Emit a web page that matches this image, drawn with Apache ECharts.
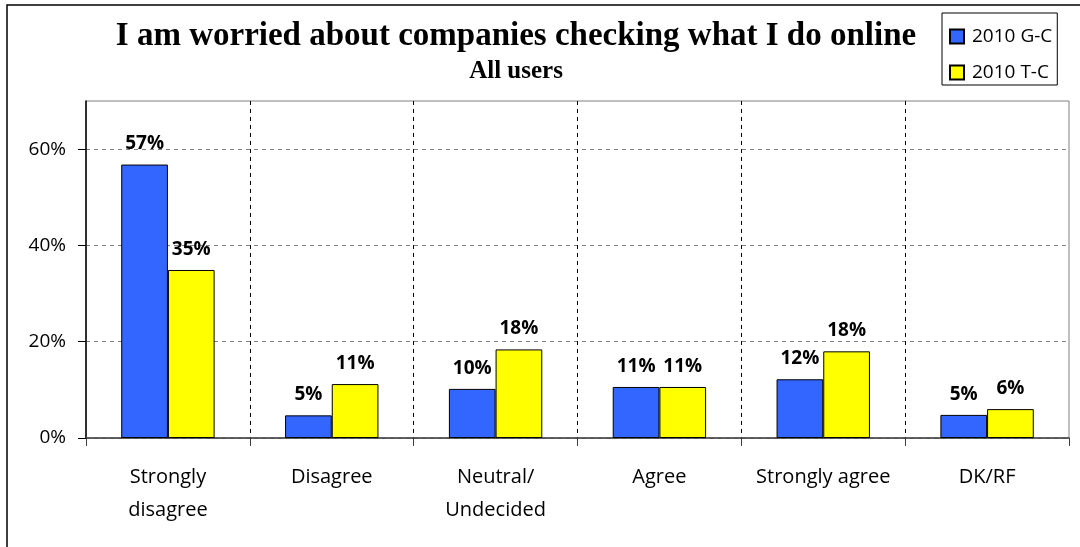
<!DOCTYPE html>
<html>
<head>
<meta charset="utf-8">
<script src="https://cdn.jsdelivr.net/npm/echarts@6/dist/echarts.min.js"></script>
<style>
  html, body { margin: 0; padding: 0; background: #fff; }
  #chart { width: 1080px; height: 547px; }
</style>
</head>
<body>
<div id="chart"></div>
<script>
var categories = ['Strongly\ndisagree', 'Disagree', 'Neutral/\nUndecided', 'Agree', 'Strongly agree', 'DK/RF'];
var seriesNames = ['2010 G-C', '2010 T-C'];
var gcData = [56.8, 4.7, 10.2, 10.6, 12.2, 4.8];
var tcData = [34.9, 11.2, 18.4, 10.6, 18.0, 6.0];
var yTicks = [0, 20, 40, 60];

var chart = echarts.init(document.getElementById('chart'));

var labelStyle = {
    show: true,
    position: 'top',
    distance: 11,
    fontFamily: 'Open Sans',
    fontWeight: 'bold',
    fontSize: 19,
    color: '#000',
    formatter: function (p) { return Math.round(p.value) + '%'; }
};

var option = {
    animation: false,
    backgroundColor: '#fff',
    graphic: [{
        type: 'rect',
        shape: { x: 7, y: 5, width: 1200, height: 700 },
        style: { fill: 'none', stroke: '#000', lineWidth: 1.5 },
        silent: true
    }],
    title: [{
        text: 'I am worried about companies checking what I do online',
        left: 511,
        top: 15,
        textAlign: 'center',
        textStyle: { fontFamily: 'Liberation Serif', fontWeight: 'bold', fontSize: 33, color: '#000' }
    }, {
        text: 'All users',
        left: 511,
        top: 54,
        textAlign: 'center',
        textStyle: { fontFamily: 'Liberation Serif', fontWeight: 'bold', fontSize: 25, color: '#000' }
    }],
    legend: {
        orient: 'vertical',
        left: 942,
        top: 13,
        padding: [14, 5, 3, 7],
        itemWidth: 14,
        itemHeight: 14,
        itemGap: 17,
        borderColor: '#000',
        borderWidth: 1,
        icon: 'rect',
        data: seriesNames,
        textStyle: { fontFamily: 'Open Sans', fontSize: 19, color: '#000', padding: [0, 0, 0, 3] }
    },
    grid: {
        left: 86,
        top: 101,
        right: 11,
        bottom: 109,
        show: true,
        borderColor: '#808080',
        borderWidth: 1
    },
    xAxis: {
        type: 'category',
        data: categories,
        axisLine: { lineStyle: { color: '#404040', width: 1.5 } },
        axisTick: { show: true, length: 8, lineStyle: { color: '#404040' } },
        axisLabel: {
            fontFamily: 'Open Sans',
            fontSize: 20,
            lineHeight: 33,
            margin: 23,
            color: '#000',
            interval: 0
        },
        splitLine: {
            show: true,
            showMinLine: false,
            showMaxLine: false,
            lineStyle: { color: '#000', type: [4, 4], width: 1 }
        }
    },
    yAxis: {
        type: 'value',
        min: 0,
        max: 70,
        interval: 20,
        axisLine: { show: true, lineStyle: { color: '#000', width: 1.5 } },
        axisTick: { show: true, length: 8, lineStyle: { color: '#000' } },
        axisLabel: {
            fontFamily: 'Open Sans',
            fontSize: 19,
            margin: 20,
            color: '#000',
            showMaxLabel: false,
            formatter: function (v) { return yTicks.indexOf(v) >= 0 ? v + '%' : ''; }
        },
        splitLine: {
            show: true,
            showMaxLine: false,
            lineStyle: { color: '#808080', type: [4, 4], width: 1 }
        }
    },
    series: [{
        name: seriesNames[0],
        type: 'bar',
        data: gcData,
        barGap: 0,
        barCategoryGap: '43%',
        itemStyle: { color: '#3366FF', borderColor: '#000', borderWidth: 1 },
        label: labelStyle
    }, {
        name: seriesNames[1],
        type: 'bar',
        data: tcData,
        barGap: 0,
        barCategoryGap: '43%',
        itemStyle: { color: '#FFFF00', borderColor: '#000', borderWidth: 1 },
        label: labelStyle
    }]
};

chart.setOption(option);
</script>
</body>
</html>
